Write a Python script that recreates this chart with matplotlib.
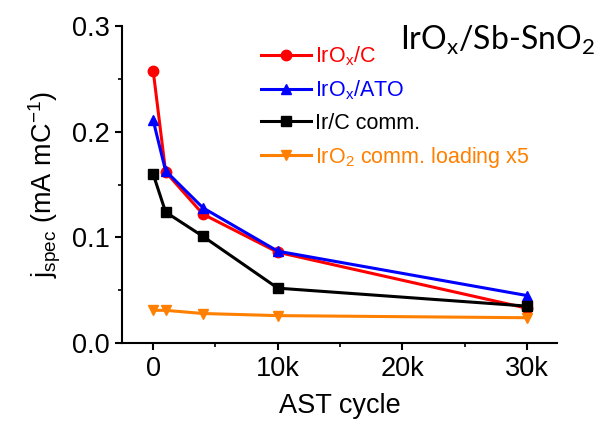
import matplotlib
matplotlib.use("Agg")
import matplotlib.pyplot as plt
from matplotlib.ticker import MultipleLocator, FuncFormatter

plt.rcParams['font.family'] = ['Liberation Sans', 'DejaVu Sans']
plt.rcParams['mathtext.fontset'] = 'custom'
plt.rcParams['mathtext.rm'] = 'Liberation Sans'
plt.rcParams['mathtext.it'] = 'Liberation Sans'

cycles = [0, 1000, 4000, 10000, 30000]
irox_c = [0.258, 0.162, 0.122, 0.086, 0.033]
irox_ato = [0.211, 0.163, 0.128, 0.087, 0.045]
irc_comm = [0.160, 0.124, 0.101, 0.052, 0.035]
iro2_comm = [0.031, 0.031, 0.028, 0.026, 0.024]

labels = [r'$\mathregular{IrO_x}$/C', r'$\mathregular{IrO_x}$/ATO', 'Ir/C comm.',
          r'$\mathregular{IrO_2}$ comm. loading x5']
colors = ['#ff0000', '#0000ff', '#000000', '#ff8000']
markers = ['o', '^', 's', 'v']
series = [irox_c, irox_ato, irc_comm, iro2_comm]

fig = plt.figure(figsize=(6.04, 4.22), dpi=100)
ax = fig.add_axes([0.202, 0.187, 0.72, 0.751])

for y, lab, c, m in zip(series, labels, colors, markers):
    ax.plot(cycles, y, color=c, marker=m, markersize=7.5, linewidth=2.2, label=lab)

ax.set_xlim(-2500, 32400)
ax.set_ylim(0, 0.3)
ax.spines['top'].set_visible(False)
ax.spines['right'].set_visible(False)
for s in ['left', 'bottom']:
    ax.spines[s].set_linewidth(1.5)
ax.xaxis.set_major_locator(MultipleLocator(10000))
ax.xaxis.set_minor_locator(MultipleLocator(5000))
ax.yaxis.set_major_locator(MultipleLocator(0.1))
ax.yaxis.set_minor_locator(MultipleLocator(0.05))
ax.xaxis.set_major_formatter(FuncFormatter(lambda v, p: '0' if v == 0 else f'{int(v/1000)}k'))
ax.yaxis.set_major_formatter(FuncFormatter(lambda v, p: f'{v:.1f}'))
ax.tick_params(which='major', direction='out', length=5, width=1.5, labelsize=19.5, pad=4)
ax.tick_params(which='minor', direction='out', length=3, width=1.2)

ax.set_xlabel('AST cycle', fontsize=19.5, labelpad=8)
ax.set_ylabel(r'$\mathregular{j_{spec}}$ (mA mC$\mathregular{^{-1}}$)', fontsize=19.5, labelpad=6)

leg = ax.legend(loc='upper left', bbox_to_anchor=(0.3, 0.97), frameon=False,
                fontsize=15.5, labelcolor='linecolor', handlelength=2.3,
                handletextpad=0.2, labelspacing=0.5, borderaxespad=0)

fig.text(0.985, 0.905, r'IrO$_\mathregular{x}$/Sb-SnO$_\mathregular{2}$', fontsize=23,
         family='Lato', ha='right', va='center')

fig.savefig('out.png', dpi=100)
